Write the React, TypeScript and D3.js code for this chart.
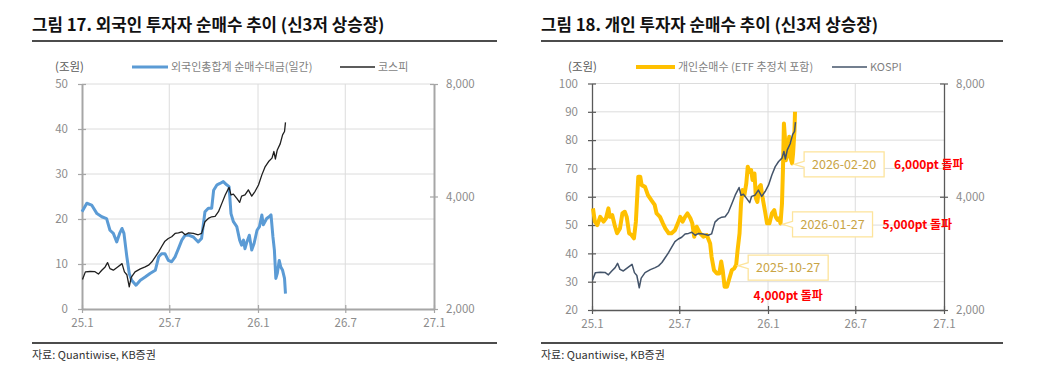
import React, { useEffect, useRef } from "react";
import * as d3 from "d3";

// x축 눈금 (25.1 ~ 27.1)
const xTickDates = ["2025-01-01", "2025-07-01", "2026-01-01", "2026-07-01", "2027-01-01"];

// 코스피 (두 차트 공통, 우축 로그 스케일)
const kospiDates = [
  "2025-01-02", "2025-01-08", "2025-01-18", "2025-01-28", "2025-02-04", "2025-02-11", "2025-02-18", "2025-02-23",
  "2025-02-28", "2025-03-07", "2025-03-16", "2025-03-25", "2025-03-30", "2025-04-04", "2025-04-09", "2025-04-13",
  "2025-04-21", "2025-05-02", "2025-05-12", "2025-05-19", "2025-05-26", "2025-06-02", "2025-06-09", "2025-06-15",
  "2025-06-22", "2025-06-29", "2025-07-06", "2025-07-13", "2025-07-20", "2025-07-27", "2025-08-03", "2025-08-10",
  "2025-08-20", "2025-08-30", "2025-09-06", "2025-09-13", "2025-09-20", "2025-09-27", "2025-10-04", "2025-10-11",
  "2025-10-18", "2025-10-25", "2025-11-02", "2025-11-06", "2025-11-11", "2025-11-18", "2025-11-24", "2025-11-28",
  "2025-12-05", "2025-12-12", "2025-12-19", "2025-12-26", "2026-01-02", "2026-01-09", "2026-01-16", "2026-01-23",
  "2026-01-30", "2026-02-03", "2026-02-06", "2026-02-10", "2026-02-16", "2026-02-21", "2026-02-25", "2026-02-27",
];
const kospiValues = [
  2398, 2514, 2520, 2517, 2480, 2540, 2592, 2662,
  2565, 2540, 2592, 2645, 2514, 2470, 2292, 2430,
  2514, 2560, 2592, 2620, 2675, 2758, 2844, 2934,
  3038, 3088, 3122, 3186, 3196, 3218, 3160, 3196,
  3186, 3160, 3186, 3424, 3494, 3530, 3540, 3642,
  3834, 4038, 4232, 4038, 4060, 3954, 3858, 4010,
  4038, 4166, 4010, 4130, 4294, 4570, 4810, 4962,
  5066, 5278, 5040, 5330, 5532, 5850, 5970, 6316,
];

// 외국인 총합계 순매수대금 (조원)
const foreignDates = [
  "2025-01-01", "2025-01-11", "2025-01-21", "2025-02-01", "2025-02-11", "2025-02-21", "2025-02-28", "2025-03-07",
  "2025-03-14", "2025-03-20", "2025-03-25", "2025-03-29", "2025-04-04", "2025-04-09", "2025-04-14", "2025-04-23",
  "2025-05-02", "2025-05-12", "2025-05-22", "2025-06-02", "2025-06-09", "2025-06-15", "2025-06-22", "2025-06-29",
  "2025-07-06", "2025-07-13", "2025-07-20", "2025-07-27", "2025-08-03", "2025-08-10", "2025-08-20", "2025-08-30",
  "2025-09-06", "2025-09-13", "2025-09-20", "2025-09-27", "2025-10-01", "2025-10-08", "2025-10-14", "2025-10-21",
  "2025-10-28", "2025-11-02", "2025-11-06", "2025-11-11", "2025-11-18", "2025-11-24", "2025-11-28", "2025-12-02",
  "2025-12-05", "2025-12-09", "2025-12-14", "2025-12-19", "2025-12-24", "2025-12-30", "2026-01-04", "2026-01-09",
  "2026-01-12", "2026-01-19", "2026-01-24", "2026-01-28", "2026-02-01", "2026-02-04", "2026-02-07", "2026-02-10",
  "2026-02-14", "2026-02-17", "2026-02-21", "2026-02-25", "2026-02-27",
];
const foreignValues = [
  21.6, 23.5, 23.1, 21.2, 20.5, 20.1, 17.5, 16.8,
  14.9, 16.8, 17.9, 16.8, 11.6, 7.9, 6.4, 5.3,
  6.4, 7.1, 7.9, 8.6, 11.6, 12.3, 12.3, 10.8,
  10.5, 11.6, 13.4, 15.3, 16.4, 16.4, 16.0, 14.9,
  15.7, 21.6, 22.4, 22.4, 26.4, 27.6, 27.9, 28.3,
  27.6, 27.2, 21.2, 19.4, 18.3, 15.3, 14.2, 15.3,
  13.4, 14.9, 16.4, 13.1, 14.6, 17.5, 18.3, 20.9,
  18.7, 20.1, 20.5, 20.9, 16.0, 13.1, 6.8, 7.9,
  10.8, 9.4, 8.6, 6.8, 3.4,
];

// 개인 순매수 (ETF 추정치 포함, 조원)
const retailDates = [
  "2025-01-03", "2025-01-07", "2025-01-12", "2025-01-18", "2025-01-25", "2025-01-30", "2025-02-04", "2025-02-07",
  "2025-02-12", "2025-02-17", "2025-02-22", "2025-02-28", "2025-03-05", "2025-03-10", "2025-03-14", "2025-03-19",
  "2025-03-24", "2025-03-29", "2025-04-02", "2025-04-07", "2025-04-11", "2025-04-14", "2025-04-21", "2025-04-27",
  "2025-05-04", "2025-05-11", "2025-05-15", "2025-05-22", "2025-05-28", "2025-06-02", "2025-06-09", "2025-06-15",
  "2025-06-22", "2025-06-28", "2025-07-03", "2025-07-08", "2025-07-13", "2025-07-18", "2025-07-24", "2025-07-28",
  "2025-08-01", "2025-08-06", "2025-08-13", "2025-08-20", "2025-08-27", "2025-09-03", "2025-09-06", "2025-09-11",
  "2025-09-17", "2025-09-22", "2025-09-26", "2025-09-29", "2025-10-03", "2025-10-08", "2025-10-13", "2025-10-18",
  "2025-10-23", "2025-10-27", "2025-10-30", "2025-11-03", "2025-11-06", "2025-11-09", "2025-11-13", "2025-11-17",
  "2025-11-20", "2025-11-24", "2025-11-27", "2025-11-30", "2025-12-04", "2025-12-07", "2025-12-10", "2025-12-14",
  "2025-12-17", "2025-12-21", "2025-12-26", "2025-12-30", "2026-01-04", "2026-01-09", "2026-01-14", "2026-01-17",
  "2026-01-21", "2026-01-24", "2026-01-27", "2026-01-30", "2026-02-01", "2026-02-03", "2026-02-05", "2026-02-07",
  "2026-02-10", "2026-02-14", "2026-02-17", "2026-02-20", "2026-02-22", "2026-02-25", "2026-02-26",
];
const retailValues = [
  55.9, 51.2, 50.0, 52.9, 51.2, 52.4, 55.9, 52.9,
  53.5, 50.0, 47.1, 48.8, 54.1, 54.7, 52.9, 47.1,
  46.5, 45.3, 51.2, 67.1, 67.1, 64.1, 63.5, 60.6,
  58.8, 57.1, 54.1, 52.9, 50.6, 48.8, 47.1, 47.1,
  48.2, 50.6, 52.9, 51.2, 52.9, 54.1, 52.4, 50.6,
  45.9, 49.4, 47.1, 45.9, 46.5, 43.5, 38.8, 34.1,
  32.9, 32.9, 37.1, 34.1, 28.2, 28.2, 31.2, 34.1,
  34.7, 36.0, 41.2, 47.1, 57.6, 62.4, 60.6, 64.7,
  70.6, 68.8, 69.4, 65.9, 68.2, 59.4, 58.2, 63.5,
  64.1, 59.4, 54.7, 50.6, 50.6, 54.1, 55.3, 52.9,
  51.8, 52.4, 50.6, 57.6, 69.4, 85.9, 81.2, 72.9,
  75.3, 81.2, 73.5, 71.8, 75.3, 83.5, 90.0,
];

// 돌파 시점 표시
const retailMarkDates = ["2025-10-27", "2026-01-27", "2026-02-20"];
const retailMarkNotes = ["4,000pt 돌파", "5,000pt 돌파", "6,000pt 돌파"];

const FONT = "'Noto Sans CJK KR', 'Noto Sans', sans-serif";
const parse = d3.timeParse("%Y-%m-%d");

const toPoints = (dates, values) => dates.map((d, i) => ({ date: parse(d), v: values[i] }));

const panels = [
  {
    x0: 32, x1: 497,
    title: "그림 17. 외국인 투자자 순매수 추이 (신3저 상승장)",
    left: 82, right: 434, top: 84, bottom: 309,
    yDomain: [0, 50], yTicks: [0, 10, 20, 30, 40, 50],
    axisColor: "#a6a6a6", axisWidth: 2,
    unitX: 55,
    legend: [
      { label: "외국인총합계 순매수대금(일간)", color: "#5b9bd5", width: 3, lx: 132, lw: 36 },
      { label: "코스피", color: "#262626", width: 1.5, lx: 340, lw: 35 },
    ],
    main: { dates: foreignDates, values: foreignValues, color: "#5b9bd5", width: 3 },
    index: { color: "#1f1f1f", width: 1.3 },
  },
  {
    x0: 541, x1: 1003,
    title: "그림 18. 개인 투자자 순매수 추이 (신3저 상승장)",
    left: 592, right: 944, top: 83.5, bottom: 310,
    yDomain: [20, 100], yTicks: [20, 30, 40, 50, 60, 70, 80, 90, 100],
    axisColor: "#595959", axisWidth: 1.3,
    unitX: 568,
    legend: [
      { label: "개인순매수 (ETF 추정치 포함)", color: "#ffc000", width: 4, lx: 636, lw: 39 },
      { label: "KOSPI", color: "#44546a", width: 1.5, lx: 832, lw: 35 },
    ],
    main: { dates: retailDates, values: retailValues, color: "#ffc000", width: 4 },
    index: { color: "#44546a", width: 1.5 },
    marks: true,
  },
];

function drawPanel(root, p) {
  const g = root.append("g");
  const x = d3.scaleTime()
    .domain([parse(xTickDates[0]), parse(xTickDates[xTickDates.length - 1])])
    .range([p.left, p.right]);
  const y = d3.scaleLinear().domain(p.yDomain).range([p.bottom, p.top]);
  const y2 = d3.scaleLog().base(2).domain([2000, 8000]).range([p.bottom, p.top]);

  // 제목
  g.append("text").attr("x", p.x0).attr("y", 31).text(p.title)
    .style("font-family", FONT).style("font-size", "16.8px").style("font-weight", 700).style("fill", "#111");
  g.append("line").attr("x1", p.x0).attr("x2", p.x1).attr("y1", 41).attr("y2", 41)
    .attr("stroke", "#111").attr("stroke-width", 1.3);

  // 출처
  g.append("line").attr("x1", p.x0).attr("x2", p.x1).attr("y1", 343).attr("y2", 343)
    .attr("stroke", "#111").attr("stroke-width", 1.3);
  g.append("text").attr("x", p.x0).attr("y", 359).text("자료: Quantiwise, KB증권")
    .style("font-family", FONT).style("font-size", "11px").style("fill", "#333");

  // 범례
  g.append("text").attr("x", p.unitX).attr("y", 67).attr("dy", "0.35em").text("(조원)")
    .style("font-family", FONT).style("font-size", "11.5px").style("fill", "#595959");
  p.legend.forEach(l => {
    g.append("line").attr("x1", l.lx).attr("x2", l.lx + l.lw).attr("y1", 67).attr("y2", 67)
      .attr("stroke", l.color).attr("stroke-width", l.width);
    g.append("text").attr("x", l.lx + l.lw + 3).attr("y", 67).attr("dy", "0.35em").text(l.label)
      .style("font-family", FONT).style("font-size", "11px").style("fill", "#7f7f7f");
  });

  // 격자
  g.selectAll(".hgrid").data(p.yTicks.slice(1)).join("line").attr("class", "hgrid")
    .attr("x1", p.left).attr("x2", p.right).attr("y1", d => y(d)).attr("y2", d => y(d))
    .attr("stroke", "#dcdcdc").attr("stroke-width", 1);
  g.selectAll(".vgrid").data(xTickDates.slice(1, -1)).join("line").attr("class", "vgrid")
    .attr("x1", d => x(parse(d))).attr("x2", d => x(parse(d))).attr("y1", p.top).attr("y2", p.bottom)
    .attr("stroke", "#dcdcdc").attr("stroke-width", 1);

  const styleAxis = (sel, horizontal) => {
    sel.select(".domain").attr("stroke", p.axisColor).attr("stroke-width", p.axisWidth);
    sel.selectAll(".tick line").attr("stroke", p.axisColor).attr("stroke-width", 1.2);
    if (horizontal) sel.selectAll(".tick line").attr("y1", -4).attr("y2", 4);
    else sel.selectAll(".tick line").attr("x1", -4).attr("x2", 4);
    sel.selectAll("text").style("font-family", FONT).style("font-size", "11.5px").attr("fill", "#8c8c8c");
  };

  g.append("g").attr("transform", `translate(${p.left},0)`)
    .call(d3.axisLeft(y).tickValues(p.yTicks).tickSizeInner(4).tickSizeOuter(0).tickPadding(10))
    .call(s => styleAxis(s, false));
  g.append("g").attr("transform", `translate(${p.right},0)`)
    .call(d3.axisRight(y2).tickValues([2000, 4000, 8000]).tickFormat(d3.format(",")).tickSizeInner(4).tickSizeOuter(0).tickPadding(8))
    .call(s => styleAxis(s, false));
  g.append("g").attr("transform", `translate(0,${p.bottom})`)
    .call(d3.axisBottom(x).tickValues(xTickDates.map(parse)).tickFormat(d3.timeFormat("%y.%-m")).tickSizeInner(4).tickSizeOuter(0).tickPadding(6))
    .call(s => styleAxis(s, true));

  // 선
  const mainPts = toPoints(p.main.dates, p.main.values);
  const kospiPts = toPoints(kospiDates, kospiValues);
  g.append("path").datum(mainPts)
    .attr("d", d3.line().x(d => x(d.date)).y(d => y(d.v)))
    .attr("fill", "none").attr("stroke", p.main.color).attr("stroke-width", p.main.width)
    .attr("stroke-linejoin", "round");
  g.append("path").datum(kospiPts)
    .attr("d", d3.line().x(d => x(d.date)).y(d => y2(d.v)))
    .attr("fill", "none").attr("stroke", p.index.color).attr("stroke-width", p.index.width)
    .attr("stroke-linejoin", "round");

  if (p.marks) {
    const bis = d3.bisector(d => d.date).left;
    retailMarkDates.forEach((md, i) => {
      const dt = parse(md);
      const pt = mainPts[Math.min(bis(mainPts, dt), mainPts.length - 1)];
      const px = x(dt) + 2, py = y(pt.v) + 1;
      const bx = px + 10, bw = 80, bh = 25, by = py - bh / 2 + (i === 0 ? 2 : 0);
      const ny = Math.max(by + 6, Math.min(by + bh - 6, py));
      g.append("path")
        .attr("d", `M${bx},${by}H${bx + bw}V${by + bh}H${bx}V${ny + 3}L${px},${py}L${bx},${ny - 3}Z`)
        .attr("fill", "#fff").attr("stroke", "#fde49b").attr("stroke-width", 1.3);
      g.append("text").attr("x", bx + bw / 2).attr("y", by + bh / 2).attr("dy", "0.35em")
        .attr("text-anchor", "middle").text(md)
        .style("font-family", FONT).style("font-size", "12.5px").style("fill", "#c9a445");
      const note = g.append("text").text(retailMarkNotes[i])
        .style("font-family", FONT).style("font-size", "12px").style("font-weight", 700).style("fill", "#ff0000")
        .attr("dy", "0.35em");
      if (i === 0) note.attr("x", bx + bw / 2).attr("y", by + bh + 16).attr("text-anchor", "middle");
      else note.attr("x", bx + bw + 10).attr("y", by + bh / 2);
    });
  }
}

export default function App() {
  const ref = useRef(null);

  useEffect(() => {
    const svg = d3.select(ref.current);
    svg.selectAll("*").remove();
    panels.forEach(p => drawPanel(svg, p));
  }, []);

  return (
    <svg ref={ref} width={1057} height={372}
      style={{ position: "absolute", left: 0, top: 0, background: "#fff" }} />
  );
}
